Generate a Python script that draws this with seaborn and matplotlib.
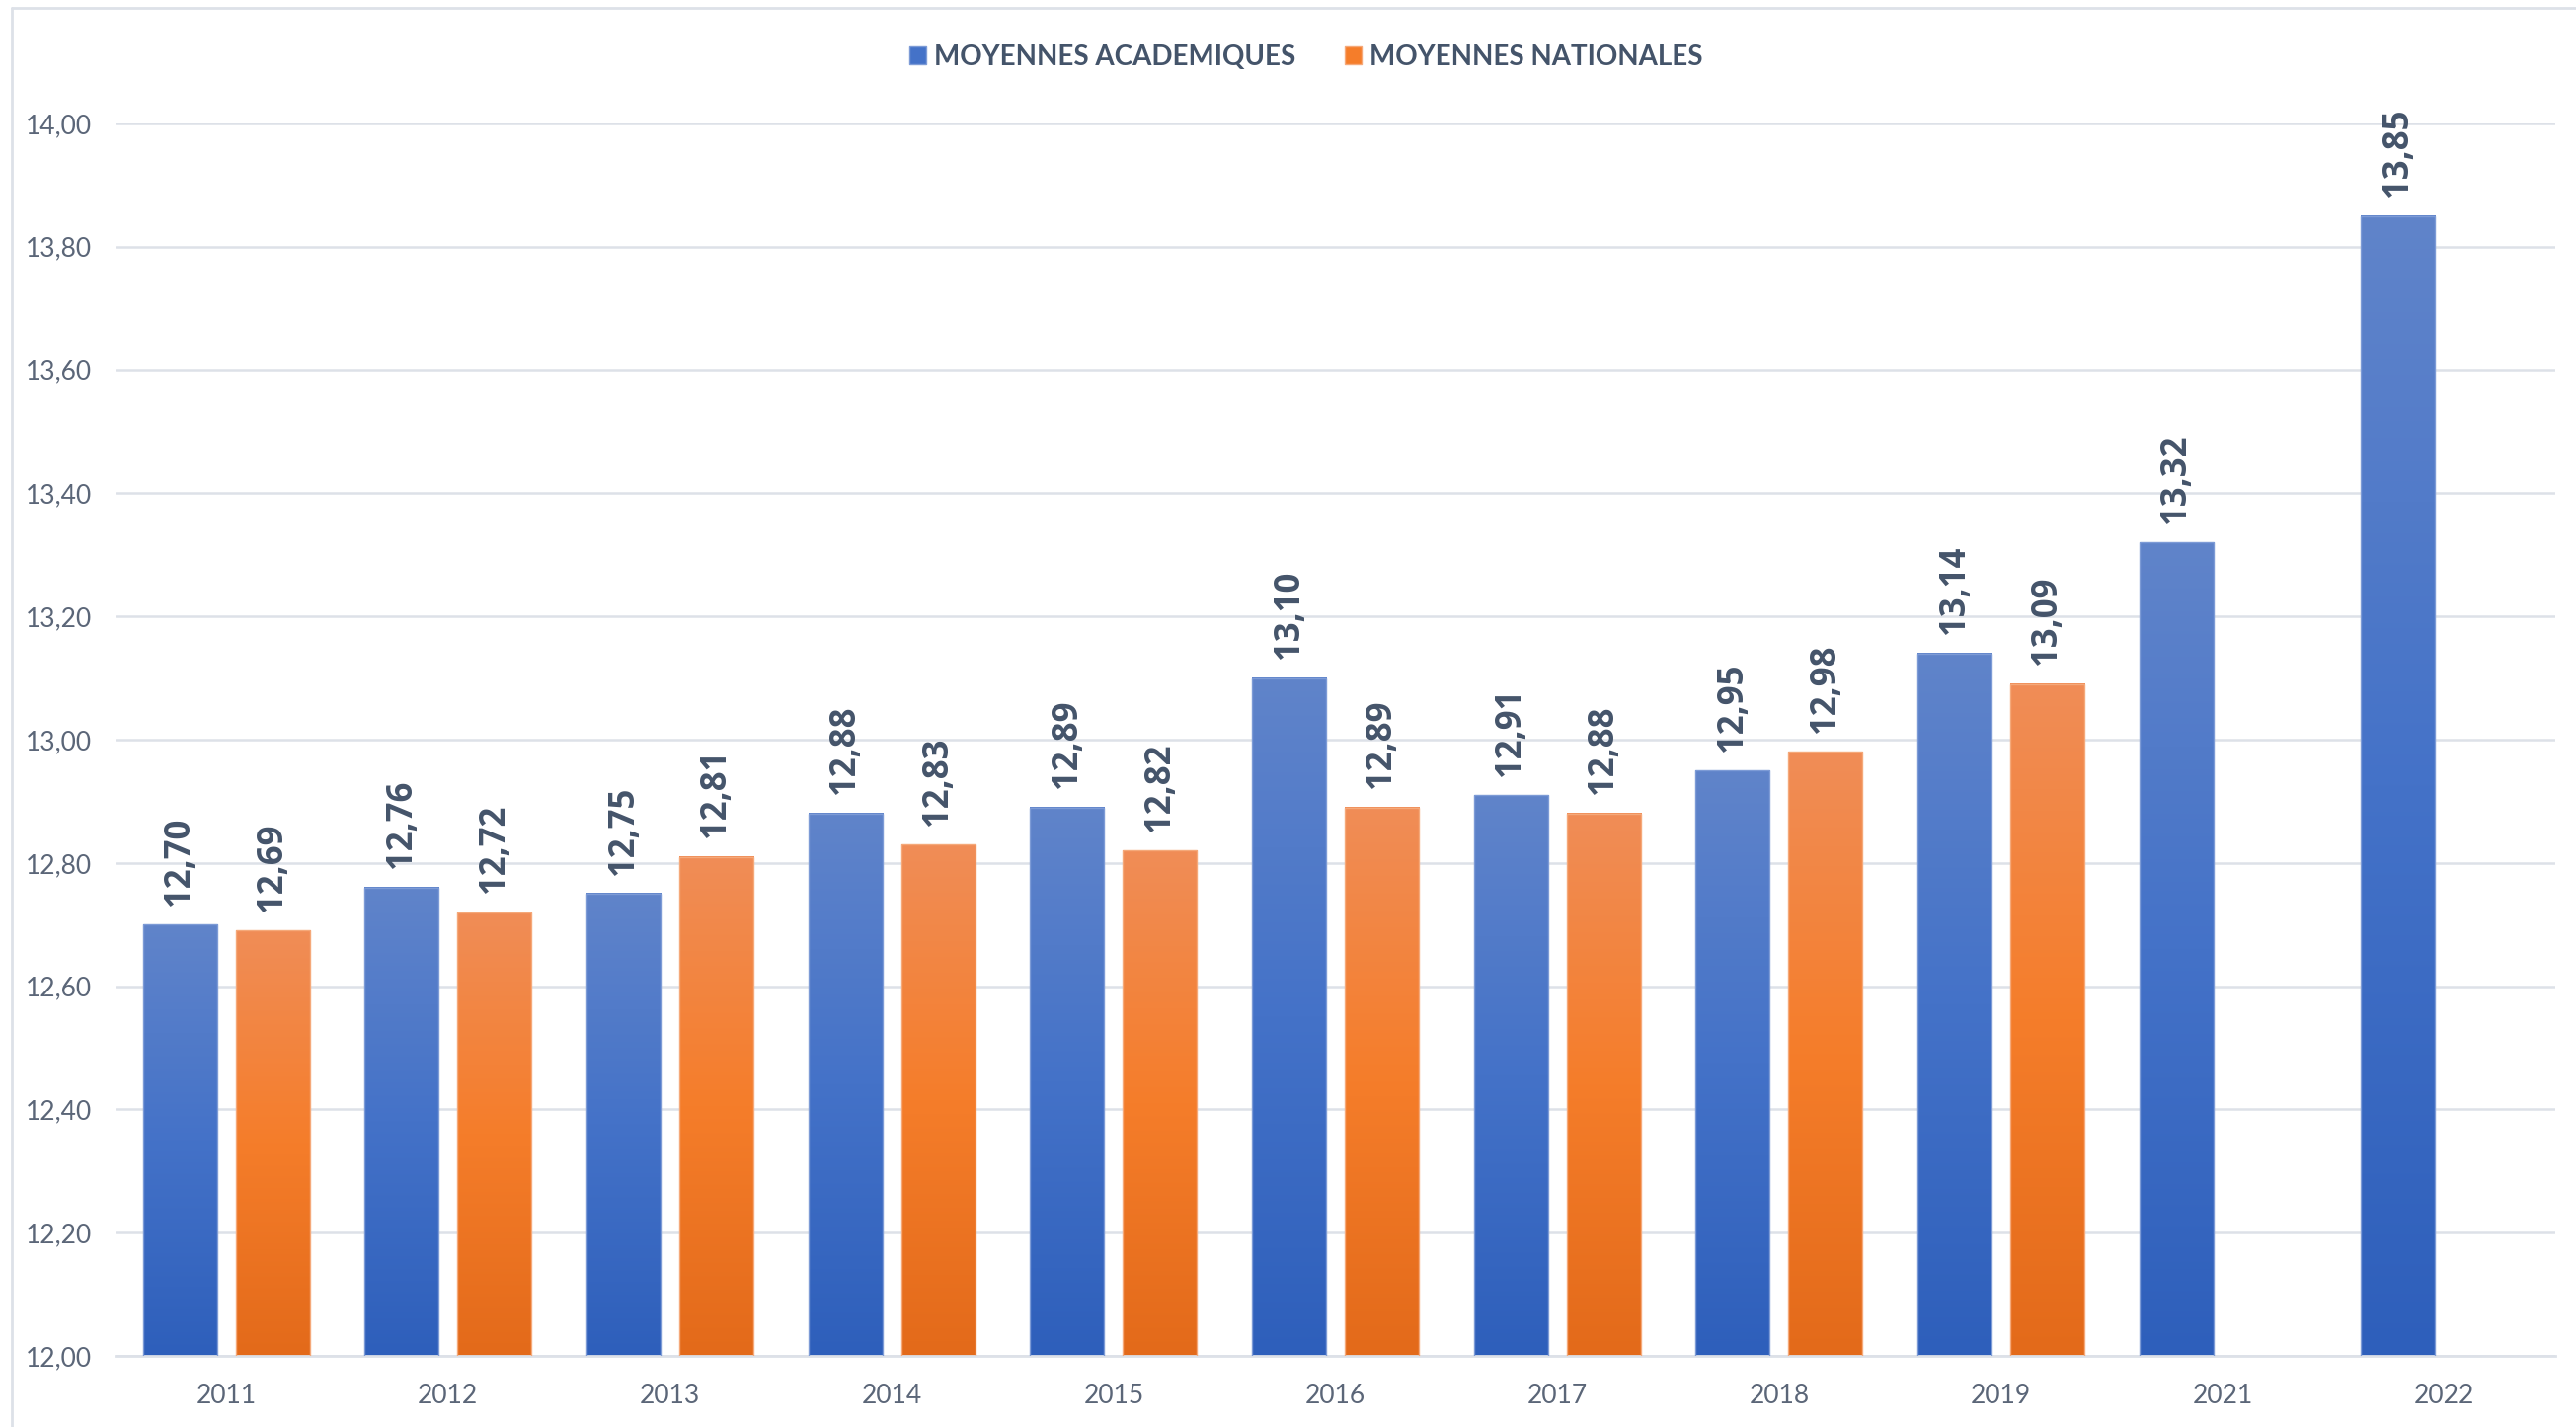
import numpy as np
import pandas as pd
import matplotlib.pyplot as plt
import matplotlib.colors as mcolors
from matplotlib.lines import Line2D
from matplotlib.patches import Patch
import seaborn as sns

# données
annees = ['2011', '2012', '2013', '2014', '2015', '2016', '2017', '2018', '2019', '2021', '2022']
moy_acad = [12.70, 12.76, 12.75, 12.88, 12.89, 13.10, 12.91, 12.95, 13.14, 13.32, 13.85]
moy_nat = [12.69, 12.72, 12.81, 12.83, 12.82, 12.89, 12.88, 12.98, 13.09, np.nan, np.nan]
series = ['MOYENNES ACADEMIQUES', 'MOYENNES NATIONALES']
y_ticks = [12.00, 12.20, 12.40, 12.60, 12.80, 13.00, 13.20, 13.40, 13.60, 13.80, 14.00]

# couleurs du dégradé : bas, milieu, haut
grad = {
    series[0]: ['#2e5fbb', '#4472c8', '#6084ca'],
    series[1]: ['#e36a1a', '#f57d2a', '#f08d57'],
}
bord = {series[0]: '#7d9bd6', series[1]: '#f5a97a'}
palette = {series[0]: '#4472c4', series[1]: '#ed7d31'}
txt_col = '#44546a'
tick_col = '#5b6678'
grid_col = '#dde1e8'

df = pd.concat([
    pd.DataFrame({'annee': annees, 'note': moy_acad, 'serie': series[0]}),
    pd.DataFrame({'annee': annees, 'note': moy_nat, 'serie': series[1]}),
], ignore_index=True)

sns.set_style('white')
plt.rcParams['font.family'] = ['Lato', 'DejaVu Sans']

fig = plt.figure(figsize=(26.09, 14.45), dpi=100)
ax = fig.add_axes([0.0448, 0.0498, 0.9472, 0.8637])

sns.barplot(data=df, x='annee', y='note', hue='serie', order=annees, hue_order=series,
            palette=palette, width=0.835, gap=0.2, ax=ax, legend=False, zorder=2)

ax.set_xlim(-0.5, len(annees) - 0.5)
ax.set_ylim(12, 14)
ax.set_yticks(y_ticks)
ax.set_yticklabels([f'{v:.2f}'.replace('.', ',') for v in y_ticks])
ax.yaxis.grid(True, color=grid_col, linewidth=1.8, zorder=0)
ax.set_axisbelow(True)
for s in ['top', 'right', 'left']:
    ax.spines[s].set_visible(False)
ax.spines['bottom'].set_color(grid_col)
ax.spines['bottom'].set_linewidth(2)
ax.tick_params(axis='y', length=0, pad=17, labelsize=19, labelcolor=tick_col)
ax.tick_params(axis='x', length=0, pad=20, labelsize=19, labelcolor=tick_col)
ax.set_xlabel('')
ax.set_ylabel('')

# dégradé vertical dans la partie visible de chaque barre + étiquettes
y_bas = ax.get_ylim()[0]
for cont, serie in zip(ax.containers, series):
    cmap = mcolors.LinearSegmentedColormap.from_list(serie, grad[serie])
    img = cmap(np.linspace(0, 1, 256))[:, None, :]
    for bar in cont:
        h = bar.get_height()
        if np.isnan(h):
            continue
        x0 = bar.get_x()
        w = bar.get_width()
        y1 = bar.get_y() + h
        ax.imshow(img, extent=(x0, x0 + w, y_bas, y1), origin='lower', aspect='auto',
                  interpolation='bilinear', zorder=2.5)
        bar.set_facecolor('none')
        bar.set_edgecolor(bord[serie])
        bar.set_linewidth(1)
        bar.set_zorder(3)
        ax.annotate(f'{y1:.2f}'.replace('.', ','), (x0 + w / 2, y1),
                    xytext=(0, 14), textcoords='offset points', rotation=90,
                    ha='center', va='bottom', fontsize=25, fontweight='bold',
                    color=txt_col, family=['Open Sans', 'DejaVu Sans'], annotation_clip=False)

ax.set_xlim(-0.5, len(annees) - 0.5)
ax.set_ylim(12, 14)

# légende
handles = [Patch(facecolor=grad[s][1], edgecolor=bord[s]) for s in series]
fig.legend(handles, series, loc='center', bbox_to_anchor=(0.507, 0.96), ncol=2, frameon=False,
           handlelength=0.6, handleheight=0.6, handletextpad=0.3, columnspacing=1.8,
           prop={'family': ['Lato', 'DejaVu Sans'], 'size': 20, 'weight': 'bold'},
           labelcolor=txt_col)

# cadre
fig.add_artist(Line2D([12 / 2609, 12 / 2609], [0, 1 - 8 / 1445], transform=fig.transFigure,
                      color=grid_col, linewidth=2))
fig.add_artist(Line2D([12 / 2609, 1], [1 - 8 / 1445, 1 - 8 / 1445], transform=fig.transFigure,
                      color=grid_col, linewidth=2))

fig.savefig('out.png', dpi=100)
